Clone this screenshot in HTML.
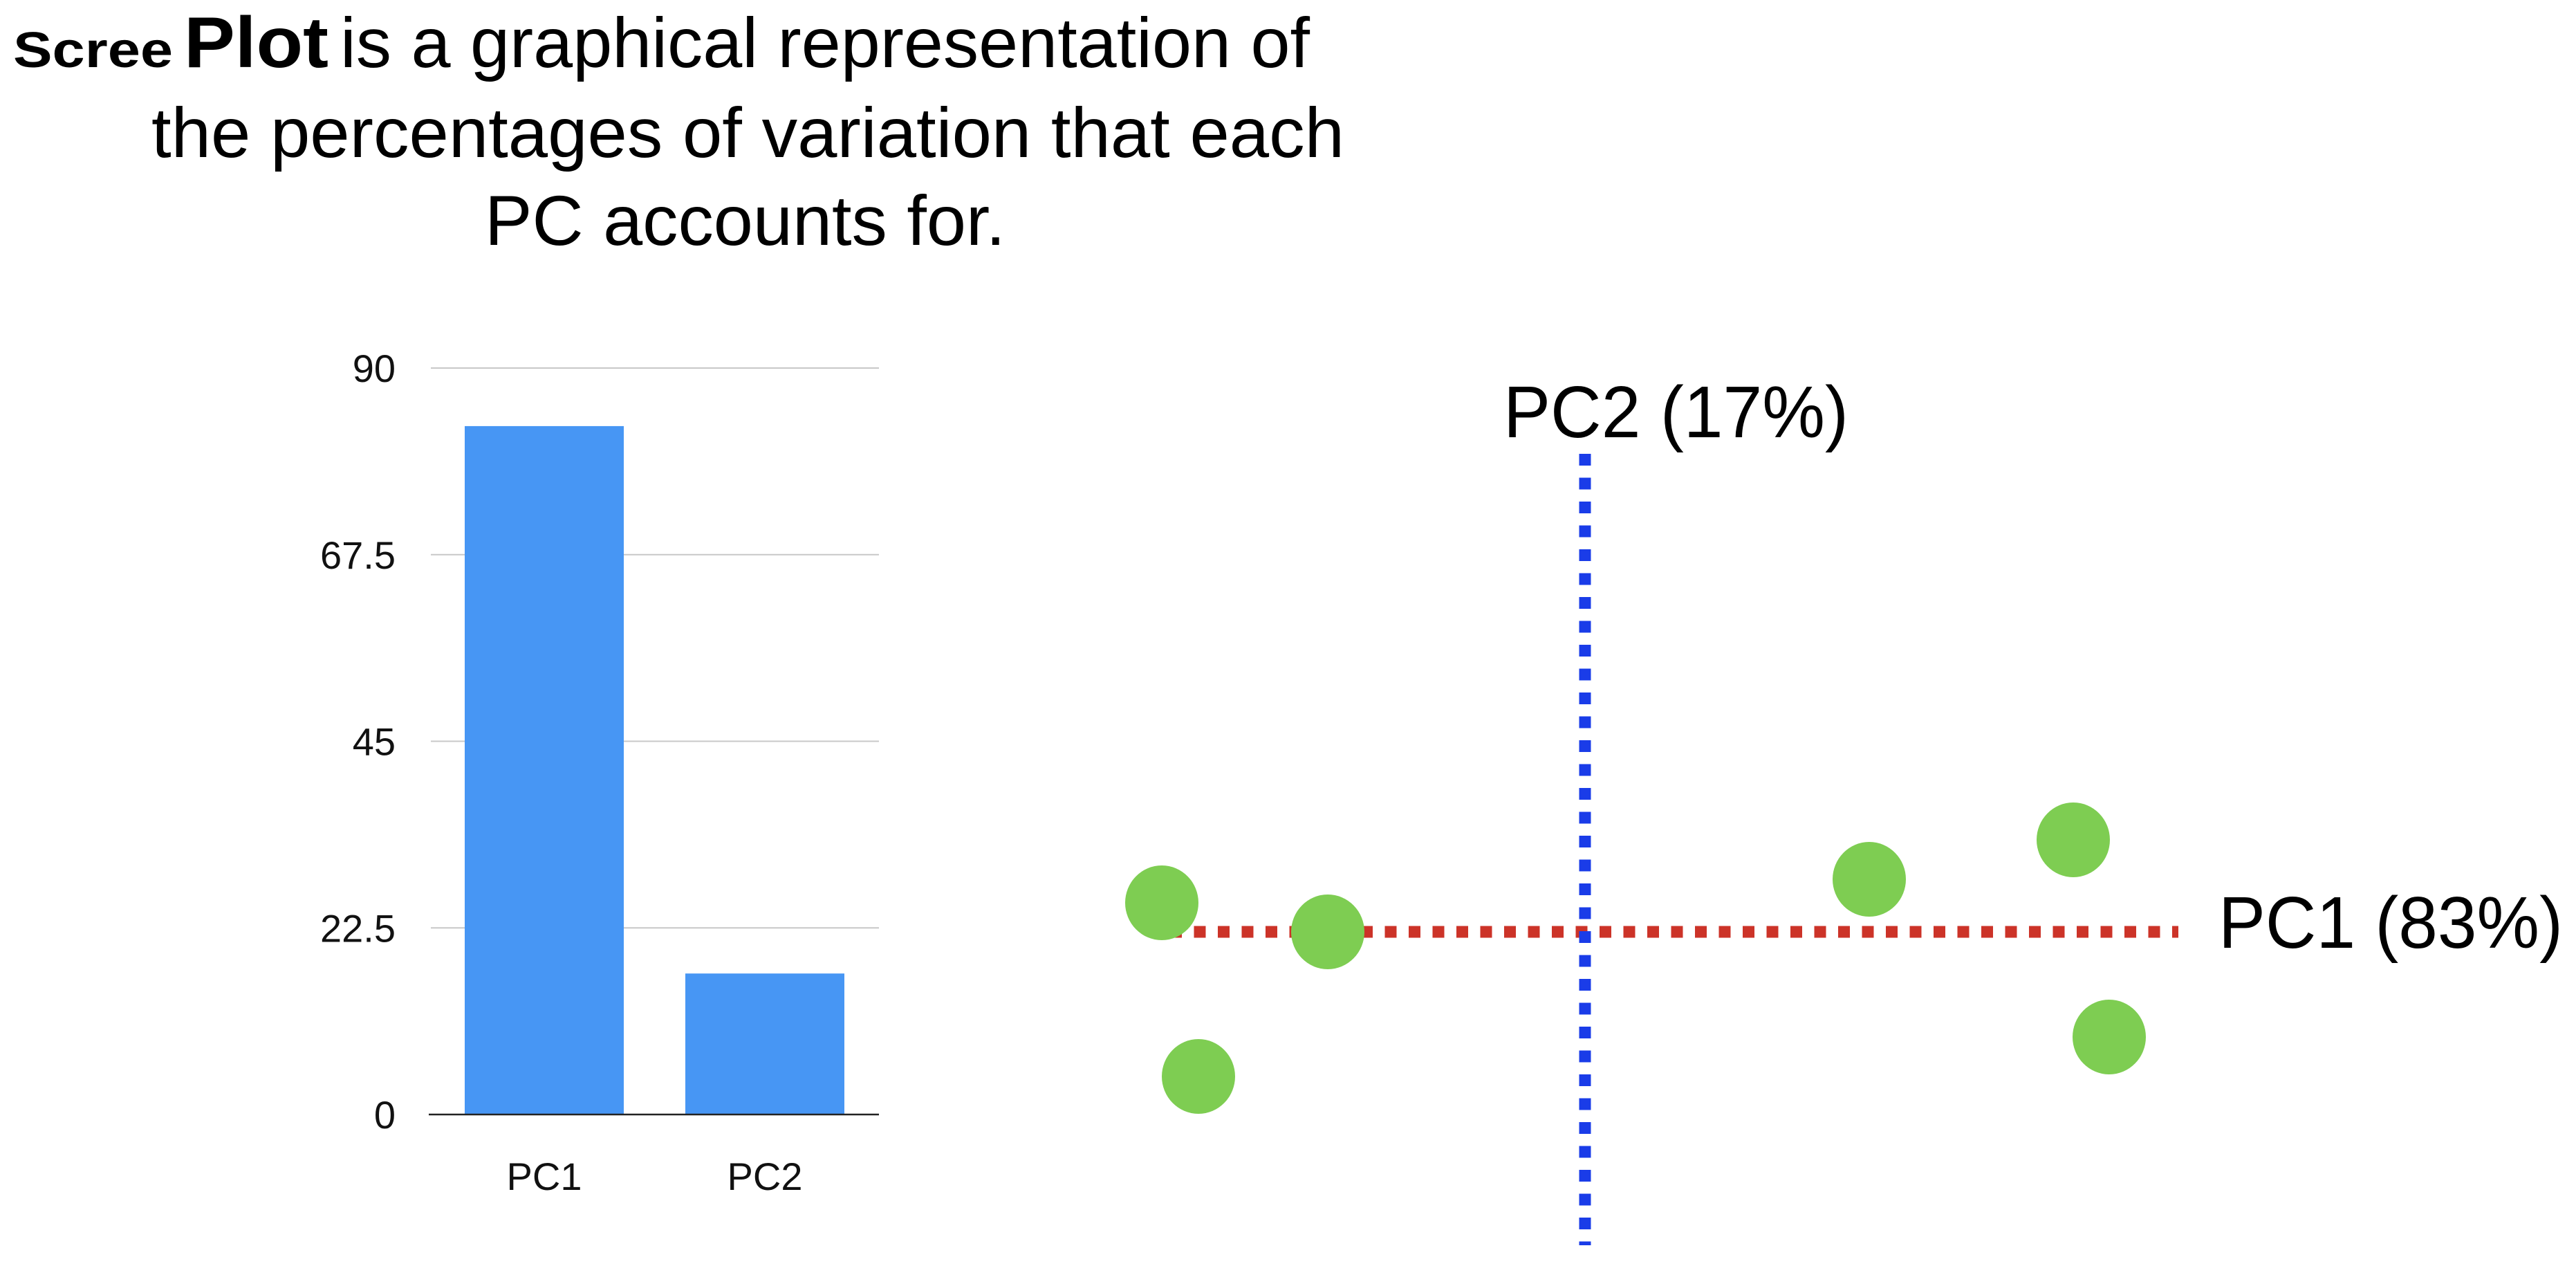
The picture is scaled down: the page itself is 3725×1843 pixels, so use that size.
<!DOCTYPE html>
<html><head><meta charset="utf-8"><style>
html,body{margin:0;padding:0;background:#fff;}
svg{display:block;font-family:"Liberation Sans",Arial,sans-serif;}
</style></head><body>
<svg id="root" width="3725" height="1843" viewBox="0 0 3725 1843">
  <g fill="#000">
    <text x="19" y="97" font-size="72" font-weight="bold" textLength="231" lengthAdjust="spacingAndGlyphs">Scree</text>
    <text x="266" y="97" font-size="104" font-weight="bold" textLength="209" lengthAdjust="spacingAndGlyphs">Plot</text>
    <text x="492" y="97" font-size="102" textLength="1402" lengthAdjust="spacingAndGlyphs">is a graphical representation of</text>
    <text x="219" y="227" font-size="102" textLength="1725" lengthAdjust="spacingAndGlyphs">the percentages of variation that each</text>
    <text x="701" y="354" font-size="102" textLength="753" lengthAdjust="spacingAndGlyphs">PC accounts for.</text>
  </g>
  <g id="bar-chart"></g>
  <g id="pca-plot"></g>
</svg>
<script>
const NS = "http://www.w3.org/2000/svg";
// Bar chart data
const barCategories = ["PC1", "PC2"];
const barValues = [83, 17];
const yTicks = [0, 22.5, 45, 67.5, 90];
const yTickLabels = ["0", "22.5", "45", "67.5", "90"];
// Scatter data (PC1, PC2 coordinates)
const pointX = [-6.12, -3.72, -5.59, 4.11, 7.06, 7.58];
const pointY = [0.42, 0.0, -2.09, 0.76, 1.33, -1.52];
const pc1Label = "PC1 (83%)";
const pc2Label = "PC2 (17%)";

function mk(tag, attrs, parent) {
  const e = document.createElementNS(NS, tag);
  for (const k in attrs) e.setAttribute(k, attrs[k]);
  parent.appendChild(e);
  return e;
}

// ---- Bar chart ----
const bc = document.getElementById("bar-chart");
const plotL = 623, plotR = 1271, plotTop = 532, plotBot = 1611;
const yMax = 90;
function yScale(v) { return plotBot - (v / yMax) * (plotBot - plotTop); }
function xBand(i) { return 672 + i * 319; }

yTicks.forEach((t, i) => {
  const y = yScale(t);
  if (t !== 0) {
    const g = mk("line", {x1: plotL, x2: plotR, y1: y, y2: y, stroke: "#c8c8c8", "stroke-width": 2}, bc);
    
    
  }
  const lab = mk("text", {x: 572, y: y + 20, "font-size": 56, "text-anchor": "end", fill: "#111"}, bc);
  lab.textContent = yTickLabels[i];
  
  
});

barCategories.forEach((c, i) => {
  const x = xBand(i), w = 230;
  const top = yScale(barValues[i]);
  const r = mk("rect", {x: x, y: top, width: w, height: plotBot - top, fill: "#4796f4"}, bc);
  
  
  const t = mk("text", {x: x + w / 2, y: 1720, "font-size": 56, "text-anchor": "middle", fill: "#111"}, bc);
  t.textContent = c;
  
  
});
const ax = mk("line", {x1: plotL - 3, x2: plotR, y1: plotBot, y2: plotBot, stroke: "#222", "stroke-width": 2.5}, bc);



// ---- PCA scatter ----
const pc = document.getElementById("pca-plot");
const ox = 2292, oy = 1347, unit = 100;
function sx(v) { return ox + v * unit; }
function sy(v) { return oy - v * unit; }

const hl = mk("line", {x1: 1692, x2: 3150, y1: oy, y2: oy, stroke: "#cc3328", "stroke-width": 17, "stroke-dasharray": "17 17.5"}, pc);


const vl = mk("line", {x1: ox, x2: ox, y1: 656, y2: 1800, stroke: "#1a3ce8", "stroke-width": 17, "stroke-dasharray": "17 17.5"}, pc);



pointX.forEach((v, i) => {
  const c = mk("ellipse", {cx: sx(v), cy: sy(pointY[i]), rx: 53, ry: 54, fill: "#7ecd52"}, pc);
  
  
});

const t2 = mk("text", {x: 2174, y: 632, "font-size": 106, fill: "#000", textLength: 499, lengthAdjust: "spacingAndGlyphs"}, pc);
t2.textContent = pc2Label;


const t1 = mk("text", {x: 3208, y: 1370, "font-size": 106, fill: "#000", textLength: 498, lengthAdjust: "spacingAndGlyphs"}, pc);
t1.textContent = pc1Label;


</script>
</body></html>
